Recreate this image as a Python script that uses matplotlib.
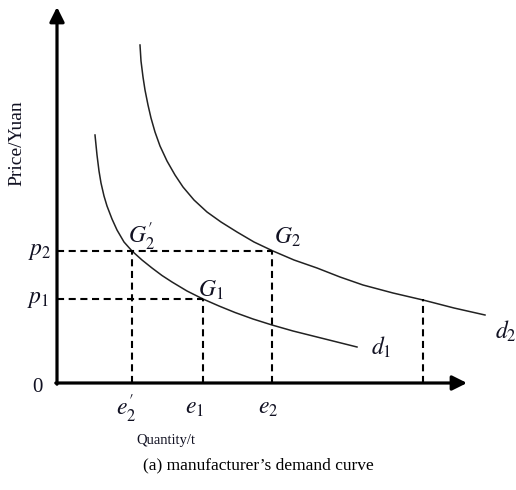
import matplotlib
matplotlib.use("Agg")
import matplotlib.pyplot as plt

plt.rcParams["mathtext.fontset"] = "stix"
plt.rcParams["font.family"] = "Liberation Serif"

# demand curves, points (origin at the axes corner)
d1_x = [38, 40, 42, 44, 47, 50, 55, 60, 67, 75, 85, 95, 105, 115, 130, 146,
        162, 178, 196, 215, 236, 258, 280, 300]
d1_y = [248, 228, 212, 200, 187, 177, 164, 153, 141, 132, 123, 115, 107.5, 101,
        92, 84, 77, 70.5, 64, 58, 52, 46.5, 41, 36]
d2_x = [83, 84, 86, 88, 91, 94, 98, 103, 110, 118, 126, 137, 150, 164, 180,
        197, 216, 237, 260, 283, 306, 336, 366, 397, 428]
d2_y = [338, 322, 306, 293, 278, 265, 251, 237, 222, 208, 196, 183, 171, 161,
        151, 141, 132, 123, 115, 106, 98, 90, 83, 75, 68]

# reference prices and quantities
p_levels = {"p1": 84, "p2": 132}
e_levels = {"e2p": 75, "e1": 146, "e2": 215, "e3": 366}

x_max = 410
y_max = 376

fig = plt.figure(figsize=(5.16, 4.90), dpi=100)
ax = fig.add_axes([0, 0, 1, 1])
ax.set_xlim(-57, 459)
ax.set_ylim(-107, 383)
ax.axis("off")

# axes with arrows
arrow = dict(arrowstyle="-|>", lw=2.3, color="black", mutation_scale=22,
             shrinkA=0, shrinkB=0)
ax.annotate("", xy=(0, y_max), xytext=(0, -1.2), arrowprops=arrow)
ax.annotate("", xy=(x_max, 0), xytext=(-1.2, 0), arrowprops=arrow)

# curves
ax.plot(d1_x, d1_y, color="#222222", lw=1.1)
ax.plot(d2_x, d2_y, color="#222222", lw=1.1)

# dashed guides
dash = dict(color="black", lw=1.5, linestyle=(0, (3.4, 2.2)))
p1, p2 = p_levels["p1"], p_levels["p2"]
e2p, e1, e2, e3 = e_levels["e2p"], e_levels["e1"], e_levels["e2"], e_levels["e3"]
ax.plot([0, e2], [p2, p2], **dash)
ax.plot([0, e1], [p1, p1], **dash)
ax.plot([e2p, e2p], [0, p2], **dash)
ax.plot([e1, e1], [0, p1], **dash)
ax.plot([e2, e2], [0, p2], **dash)
ax.plot([e3, e3], [0, p1], **dash)

# labels
fs = 17
tc = "#111122"
ax.text(-17, p2 - 1, r"$p_2$", fontsize=fs, ha="center", va="center", color=tc)
ax.text(-19, p1 - 1, r"$p_1$", fontsize=fs, ha="center", va="center", color=tc)
ax.text(-20, -4, "0", fontsize=15, ha="center", va="center", color=tc)
ax.text(e2p - 6, -26, r"$e_2^{\prime}$", fontsize=fs, ha="center", va="center", color=tc)
ax.text(e1 - 8, -25, r"$e_1$", fontsize=fs, ha="center", va="center", color=tc)
ax.text(e2 - 4, -25, r"$e_2$", fontsize=fs, ha="center", va="center", color=tc)
ax.text(84, 146, r"$G_2^{\prime}$", fontsize=fs, ha="center", va="center", color=tc)
ax.text(230, 146, r"$G_2$", fontsize=fs, ha="center", va="center", color=tc)
ax.text(154, 93, r"$G_1$", fontsize=fs, ha="center", va="center", color=tc)
ax.text(324, 36, r"$d_1$", fontsize=fs, ha="center", va="center", color=tc)
ax.text(449, 52, r"$d_2$", fontsize=fs, ha="center", va="center", color=tc)

ax.text(-40, 240, "Price/Yuan", fontsize=14, rotation=90, ha="center", va="center", color=tc)
ax.text(109, -57, "Quantity/t", fontsize=10.5, ha="center", va="center", color=tc)
ax.text(201, -82, "(a) manufacturer\u2019s demand curve", fontsize=12.5,
        ha="center", va="center", color="black")

fig.savefig("out.png", dpi=100)
